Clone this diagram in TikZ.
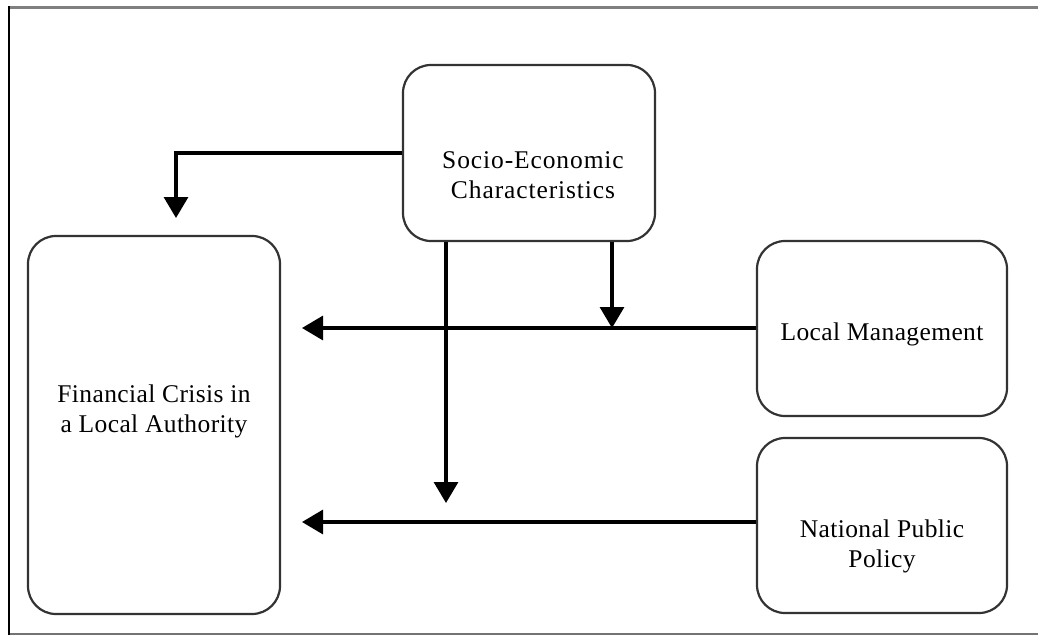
\documentclass[tikz,border=0pt]{standalone}
\usepackage{fontspec}
\setmainfont{Liberation Serif}
\usetikzlibrary{arrows.meta}
\tikzset{
  box/.style={draw=black!80, line width=2.2pt, rounded corners=28pt, inner sep=0pt},
  lbl/.style={align=center, inner sep=0pt, font=\fontsize{25.5}{30}\selectfont\addfontfeature{LetterSpace=1.5}},
  arr/.style={line width=3.2pt, -{Triangle[length=21pt,width=24pt]}},
}
\begin{document}
\begin{tikzpicture}[x=1pt,y=-1pt]
\useasboundingbox (0,0) rectangle (1038,635);
% frame
\draw[black!50, line width=3pt] (8,7) -- (1038,7);
\draw[black!55, line width=2pt] (9,634) -- (1038,634);
\draw[black, line width=2pt] (9,6) -- (9,635);
% boxes
\node[box, minimum width=252pt, minimum height=378pt] (fin) at (154,425) {};
\node[box, minimum width=252pt, minimum height=176pt] (soc) at (529,153) {};
\node[box, minimum width=250pt, minimum height=175pt] (lm) at (882,328.5) {};
\node[box, minimum width=250pt, minimum height=175pt] (np) at (882,525.5) {};
% labels
\node[lbl] (finT) at (154,411) {Financial Crisis in\\a Local Authority};
\node[lbl, font=\fontsize{25.5}{30}\selectfont\addfontfeature{LetterSpace=3.5}] (socT) at (533,175) {Socio-Economic\\Characteristics};
\node[lbl] (lmT) at (882,334) {Local Management};
\node[lbl] (npT) at (882,546) {National Public\\Policy};
% connectors
\coordinate (t1) at (176,218);
\coordinate (t2) at (446,503);
\coordinate (t3) at (612,328);
\coordinate (t4) at (302,328);
\coordinate (t5) at (302,522);
\draw[arr] (soc.west) -| (t1);
\draw[arr] (t2 |- soc.south) -- (t2);
\draw[arr] (t3 |- soc.south) -- (t3);
\draw[arr] (t4 -| lm.west) -- (t4);
\draw[arr] (t5 -| np.west) -- (t5);
\end{tikzpicture}
\end{document}
